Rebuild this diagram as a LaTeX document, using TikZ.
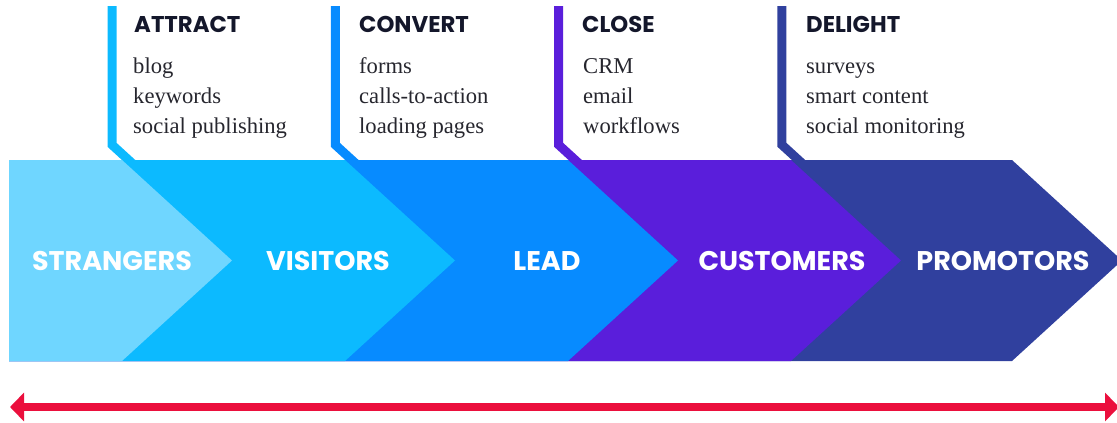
\documentclass[tikz,border=0pt]{standalone}
\usepackage{fontspec}
\setmainfont{Liberation Serif}
\newfontfamily\headfont{Poppins}
\usetikzlibrary{arrows.meta}
\definecolor{cstr}{HTML}{6FD6FF}
\definecolor{cvis}{HTML}{0CBAFF}
\definecolor{clead}{HTML}{078BFF}
\definecolor{ccust}{HTML}{5A1EDB}
\definecolor{cprom}{HTML}{30409E}
\definecolor{cred}{HTML}{EB0F3D}
\definecolor{chead}{HTML}{14172B}
\definecolor{cbody}{HTML}{26262E}
\tikzset{
  stagelabel/.style={text=white, inner sep=0pt, font=\headfont\bfseries\fontsize{27}{27}\selectfont},
  phasehead/.style={text=chead, anchor=base west, inner sep=0pt, font=\headfont\bfseries\fontsize{22.8}{22.8}\selectfont},
  phaseitem/.style={text=cbody, anchor=base west, inner sep=0pt, font=\fontsize{22.6}{22.6}\selectfont},
  flag/.style={line width=9pt, line join=miter},
  span/.style={cred, line width=8pt, {Triangle[length=14pt,width=28pt]}-{Triangle[length=14pt,width=28pt]}}
}
\begin{document}
\begin{tikzpicture}[x=1pt,y=-1pt]
\useasboundingbox (0,0) rectangle (1117,423);

% phase flags rising above the band
\foreach \i/\col in {0/cvis,1/clead,2/ccust,3/cprom}{
  \pgfmathsetmacro{\cx}{112+223.3*\i}
  \coordinate (ftop\i) at (\cx,6);
  \coordinate (fbend\i) at (\cx,144.8);
  \coordinate (fend\i) at (\cx+33,175);
  \draw[flag,\col] (ftop\i) -- (fbend\i) -- (fend\i);
}

% funnel stages, drawn right to left so each tip overlaps the next stage
\foreach \tip/\col in {1122/cprom,901/ccust,678/clead,455/cvis,232/cstr}{
  \fill[\col] (9,160) -- ({\tip-110},160) -- (\tip,260.5) -- ({\tip-110},361) -- (9,361) -- cycle;
}

\node[stagelabel] (strangers) at (112,261) {STRANGERS};
\node[stagelabel] (visitors) at (328,261) {VISITORS};
\node[stagelabel] (lead) at (547,261) {LEAD};
\node[stagelabel] (customers) at (782,261) {CUSTOMERS};
\node[stagelabel] (promotors) at (1003,261) {PROMOTORS};

% phase headings and their tools
\node[phasehead] (attract) at (134,32) {ATTRACT};
\node[phaseitem] (attract1) at (133,73) {blog};
\node[phaseitem] (attract2) at (133,103) {keywords};
\node[phaseitem] (attract3) at (133,133) {social publishing};

\node[phasehead] (convert) at (359,32) {CONVERT};
\node[phaseitem] (convert1) at (359,73) {forms};
\node[phaseitem] (convert2) at (359,103) {calls-to-action};
\node[phaseitem] (convert3) at (359,133) {loading pages};

\node[phasehead] (close) at (582,32) {CLOSE};
\node[phaseitem] (close1) at (583,73) {CRM};
\node[phaseitem] (close2) at (583,103) {email};
\node[phaseitem] (close3) at (583,133) {workflows};

\node[phasehead] (delight) at (806,32) {DELIGHT};
\node[phaseitem] (delight1) at (806,73) {surveys};
\node[phaseitem] (delight2) at (806,103) {smart content};
\node[phaseitem] (delight3) at (806,133) {social monitoring};

% double-headed span arrow
\coordinate (spanL) at (10,407);
\coordinate (spanR) at (1119,407);
\draw[span] (spanL) -- (spanR);
\end{tikzpicture}
\end{document}
